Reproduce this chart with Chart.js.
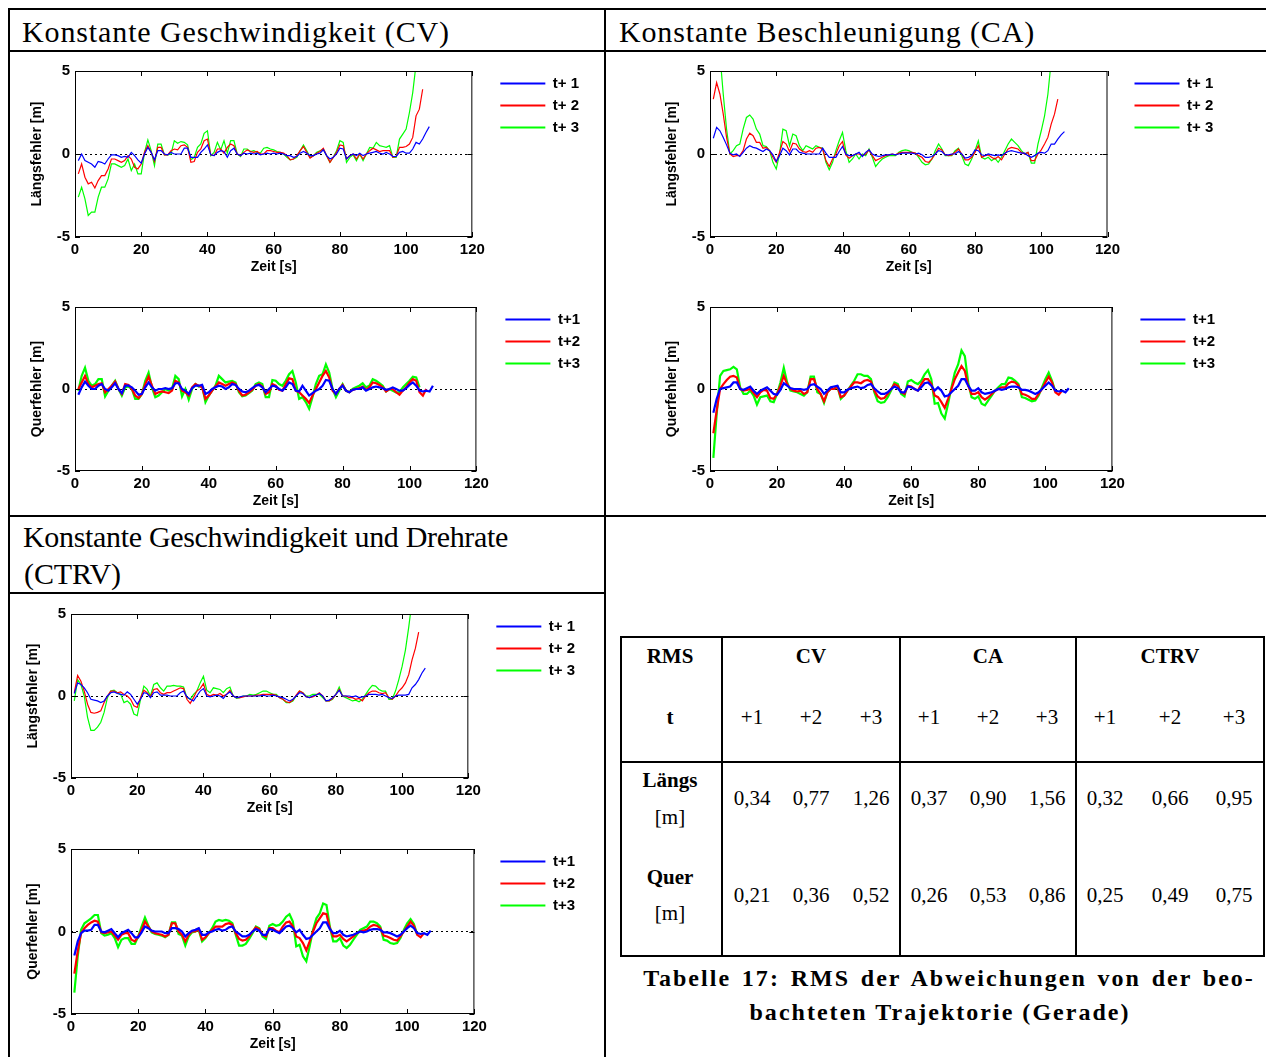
<!DOCTYPE html>
<html lang="de">
<head>
<meta charset="utf-8">
<title>Prädiktionsfehler Gerade</title>
<script src="https://cdn.jsdelivr.net/npm/chart.js@4.4.1/dist/chart.umd.min.js"></script>
<style>
  html, body { margin: 0; padding: 0; background: #fff; }
  body { width: 1266px; height: 1057px; position: relative; overflow: hidden; }
  .linie { position: absolute; background: #000; }
  .text { position: absolute; white-space: nowrap; color: #000; font-family: "Liberation Serif", "Times New Roman", serif; }
  .kopf { font-size: 30px; line-height: 30px; }
  .zelle { font-size: 21px; line-height: 21px; }
  .fett { font-weight: bold; }
  .caption { font-size: 24px; line-height: 24px; font-weight: bold; }
  canvas { position: absolute; }
</style>
</head>
<body>
<script>
// Zeitachse (s)
const zeit = [1,2,3,4,5,6,7,8,9,10,11,12,13,14,15,16,17,18,19,20,21,22,23,24,25,26,27,28,29,30,
  31,32,33,34,35,36,37,38,39,40,41,42,43,44,45,46,47,48,49,50,51,52,53,54,55,56,57,58,59,60,
  61,62,63,64,65,66,67,68,69,70,71,72,73,74,75,76,77,78,79,80,81,82,83,84,85,86,87,88,89,90,
  91,92,93,94,95,96,97,98,99,100,101,102,103,104,105,106,107]

// CV - Längsfehler
const cvLaengs1 = [-0.4,0,-0.4,-0.5,-0.6,-0.8,-0.45,-0.5,-0.6,-0.3, -0.05,-0.05,-0.1,-0.2,-0.15,-0.2,0.1,-0.1,-0.35,-0.55,
  0,0.4,0.1,-0.35,0.2,0.2,0,-0.05,0.1,0, 0,0,0.35,0.35,-0.2,-0.2,-0.2,0.1,0.3,0.55,
  -0.05,-0.1,0.1,0.2,0.15,-0.2,0.2,0.35,0,-0.1, 0.05,0,0.05,0,0.05,-0.05,0,0.05,0,0.05,
  0,0.05,0,-0.1,-0.1,-0.2,-0.15,0.05,0.15,0.05, -0.1,-0.1,0,0.05,0.25,-0.1,-0.3,-0.2,0,0.35,
  0.3,-0.3,-0.1,0,-0.1,0.05,-0.1,0,0.05,0.1, 0.15,0.05,0,0.1,0,-0.15,-0.15,0.1,0.15,0.05,
  0.05,0.3,0.7,0.6,0.9,1.3,1.65]
const cvLaengs2 = [-1.2,-0.6,-1.4,-1.8,-1.7,-2.05,-1.6,-1.3,-1.3,-0.9, -0.3,-0.3,-0.4,-0.5,-0.4,-0.1,-0.3,-0.8,-0.9,-0.6,
  0.1,0.5,0.1,-0.45,0.4,0.4,-0.05,-0.05,0.2,0.3, 0.25,0.5,0.55,0.4,-0.5,-0.45,0.1,0.3,0.8,0.9,
  -0.05,-0.1,0.3,0.3,0.05,0.4,0.6,0.5,0,-0.1, 0.1,0.25,0.15,0.1,0.15,0,0,0.2,0.2,0.15,
  0.1,0.1,0.05,-0.1,-0.35,-0.3,-0.1,0.2,0.45,0.1, -0.25,-0.1,0.05,0.15,0.35,-0.1,-0.5,-0.2,0.1,0.55,
  0.5,-0.3,-0.1,0,-0.3,0,-0.3,0,0.2,0.35, 0.25,0.15,0.2,0.2,0.2,-0.2,-0.15,0.4,0.4,0.45,
  0.6,1.0,2.3,2.7,3.9]
const cvLaengs3 = [-2.6,-2.0,-2.7,-3.7,-3.5,-3.5,-2.6,-2.0,-2.0,-1.5, -0.6,-0.6,-0.7,-0.8,-0.7,-0.3,-1.0,-0.6,-1.2,-1.2,
  0.1,0.85,0.2,-0.7,0.6,0.6,-0.05,-0.05,0,0.8, 0.65,0.75,0.7,0.55,-0.35,-0.2,0.4,0.6,1.25,1.4,
  -0.1,0.1,0.7,0.25,0.8,0.05,0.8,0.8,0,-0.15, 0.3,0.3,0.15,0.2,0.1,0.05,0.35,0.4,0.3,0.25,
  0.15,0.1,0,-0.2,-0.35,-0.3,-0.2,0.2,0.55,0.2, -0.2,-0.1,0.1,0.2,0.3,-0.1,-0.5,-0.2,0.2,0.8,
  0.7,-0.5,-0.2,-0.05,-0.4,0,-0.4,0,0.4,0.35, 0.7,0.5,0.45,0.4,0.5,-0.2,-0.2,0.9,1.2,1.5,
  2.5,3.7,5.4]

// CV - Querfehler
const cvQuer1 = [-0.35,0.1,0.45,0.2,0,0,0.2,0.3,0,-0.1, 0.1,0.35,0,-0.25,0.2,0.2,0.1,-0.1,-0.35,-0.3,
  0.1,0.4,0.1,-0.1,0,0,0.05,0,0.05,0.35, 0.35,0,-0.1,-0.3,0.05,0.2,0.2,0.25,-0.3,-0.2,
  0,0.1,0.2,0.15,0,0.1,0.3,0.25,0,-0.15, -0.2,-0.1,0.05,0.2,0.25,0.1,-0.2,0,0.2,0.15,
  0,-0.1,0.1,0.4,0.3,-0.1,-0.15,0.2,-0.1,-0.4, -0.25,-0.1,0,0.2,0.55,0.5,0,-0.3,0,0.2,
  -0.1,-0.2,-0.05,0,0,0.1,-0.1,0,0.1,0.15, 0.1,0.05,-0.05,0,0.1,0,-0.1,-0.1,0.05,0.25,
  0.4,0.2,-0.1,-0.15,-0.1,-0.15,0.2]
const cvQuer2 = [0,0.4,0.8,0.3,0.1,0.2,0.3,0.35,-0.2,0, 0.2,0.45,0,-0.3,0.3,0.25,0,-0.4,-0.55,-0.3,
  0.3,0.75,0.2,-0.3,-0.2,-0.15,-0.2,-0.25,-0.1,0.5, 0.4,-0.1,-0.2,-0.4,0.1,0.3,0.2,0.1,-0.6,-0.4,
  -0.1,0.15,0.4,0.3,0.2,0.3,0.4,0.3,-0.1,-0.4, -0.35,-0.2,-0.05,0.2,0.3,0.15,-0.3,-0.2,0.3,0.2,
  -0.05,-0.1,0.3,0.65,0.6,-0.1,-0.2,-0.4,-0.6,-0.85, -0.4,0,0.4,0.8,1.1,0.7,-0.1,-0.3,0,0.25,
  -0.1,-0.2,-0.05,0,0.05,0.15,-0.05,0.1,0.4,0.35, 0.25,0.1,-0.15,0,0,-0.2,-0.35,-0.1,0.1,0.4,
  0.6,0.5,-0.2,-0.4,0]
const cvQuer3 = [-0.1,0.8,1.3,0.5,0.2,0.3,0.6,0.6,-0.45,-0.1, 0.2,0.5,0,-0.4,0.1,0.15,0,-0.6,-0.6,-0.3,
  0.5,1.0,0.1,-0.5,-0.4,-0.2,0,-0.1,0,0.8, 0.6,-0.45,0,-0.65,0,0.3,0.15,0.2,-0.8,-0.4,
  -0.1,0.2,0.8,0.6,0.4,0.45,0.5,0.4,-0.2,-0.45, -0.4,-0.25,-0.1,0.3,0.4,0.3,-0.5,-0.5,0.55,0.5,
  0.3,0.2,0.5,0.9,1.1,0.4,-0.6,-0.5,-0.8,-1.2, -0.5,0.3,0.8,0.9,1.5,1.0,0,-0.5,-0.1,0.3,
  -0.1,-0.2,0,0.1,0.2,0.35,0.1,0.2,0.6,0.5, 0.35,0.2,-0.15,0,-0.1,-0.2,-0.2,0.1,0.3,0.5,
  0.75,0.7,0.1]

// CA - Längsfehler
const caLaengs1 = [0.95,1.6,1.4,1.0,0.55,0.05,-0.05,0,-0.15,0.1, 0.35,0.5,0.4,0.35,0.25,0.15,0.3,0.2,-0.05,-0.45,
  -0.1,0.35,0.2,-0.05,0.3,0.3,0.1,0.05,0,0, 0,0,0,0.35,0.05,-0.2,-0.2,-0.2,0.15,0.45,
  0,-0.1,-0.1,0,0.1,-0.15,0.1,0.25,0,-0.1, -0.15,-0.1,-0.05,-0.05,0,-0.05,0,0.05,0.05,0.05,
  0.05,0,0.05,-0.05,-0.2,-0.2,-0.15,0,0.2,0.15, -0.05,-0.05,0,0,0.15,0,-0.25,-0.2,-0.1,0.25,
  0.2,-0.05,-0.1,0,-0.05,-0.1,-0.05,-0.1,0.05,0.15, 0.2,0.15,0.1,0.05,0.05,-0.1,-0.2,-0.1,0.05,0.1,
  0.05,0.2,0.6,0.6,0.9,1.15,1.35]
const caLaengs2 = [3.3,4.3,3.6,2.4,1.0,0,-0.15,-0.1,-0.1,0.2, 0.9,1.25,1.1,0.7,0.7,0.35,0.4,0.2,-0.2,-0.5,
  0.1,0.75,0.6,0.15,0.65,0.6,0.3,0.15,0.1,0.2, 0.1,0.35,0.4,0.3,-0.4,-0.75,-0.3,0,0.5,0.75,
  -0.05,-0.25,-0.1,0,0,-0.1,0,0.25,-0.1,-0.4, -0.3,-0.2,-0.1,-0.05,0,-0.05,0.05,0.1,0.1,0.1,
  0.1,0.05,-0.1,-0.2,-0.45,-0.5,-0.3,0,0.35,0.25, -0.05,-0.1,-0.05,0.1,0.3,0,-0.35,-0.35,-0.2,0.1,
  0.5,-0.2,-0.1,-0.05,-0.2,-0.3,-0.15,-0.35,0,0.3, 0.4,0.35,0.3,0.1,0,0.1,-0.4,-0.4,0,0.25,
  0.6,1.0,1.8,2.4,3.3]
const caLaengs3 = [9,8,6,3.6,1.5,0,0.2,0.5,0.6,1.5, 2.2,2.35,2.1,1.5,1.2,0.5,0.45,0.2,-0.5,-0.9,
  0,1.5,1.4,0.5,1.2,1.1,0.5,0.2,0.5,0.4, 0.3,0.5,0.4,0.35,-0.5,-0.95,-0.5,0.2,0.8,1.3,
  0.2,-0.5,-0.3,0,-0.3,0,-0.1,0.3,-0.2,-0.75, -0.5,-0.3,-0.2,-0.1,-0.1,-0.1,0.1,0.2,0.25,0.2,
  0.1,0.05,-0.2,-0.5,-0.65,-0.6,-0.3,0.2,0.6,0.3, -0.1,-0.1,-0.1,0.2,0.35,-0.1,-0.6,-0.7,-0.3,0.2,
  0.8,-0.2,-0.3,-0.2,-0.4,-0.25,-0.5,-0.2,0.2,0.6, 0.9,0.7,0.5,0.2,0,0.1,-0.55,-0.55,0.6,1.4,
  2.3,3.6,5.6]

// CA - Querfehler
const caQuer1 = [-1.45,-0.6,0,0.05,0.1,0.15,0.4,0.4,0,-0.05, 0.05,0.15,-0.1,-0.3,-0.1,0,0.1,-0.1,-0.3,-0.35,
  -0.05,0.35,0.2,0.05,0,0,0,-0.05,0,0.25, 0.3,0.15,0,-0.3,-0.1,0.1,0.15,0.2,-0.2,-0.2,
  -0.05,0.05,0.1,0.15,0.05,0.1,0.25,0.3,0.05,-0.15, -0.3,-0.3,-0.2,0,0.15,0.05,-0.2,-0.2,0.15,0.1,
  0,-0.1,0.1,0.35,0.4,0.2,-0.1,0.1,-0.1,-0.45, -0.4,-0.2,0,0.2,0.6,0.6,0.2,-0.1,-0.1,0.05,
  -0.2,-0.3,-0.25,-0.2,-0.1,0,-0.05,0,0.1,0.15, 0.15,0.1,-0.05,-0.05,-0.1,-0.2,-0.3,-0.2,0,0.2,
  0.4,0.2,-0.1,-0.15,-0.1,-0.2,0.05]
const caQuer2 = [-2.7,-1.3,0,0.3,0.55,0.75,0.8,0.7,0,-0.1, -0.05,0,-0.25,-0.5,-0.2,-0.05,-0.1,-0.55,-0.6,-0.3,
  0.2,0.8,0.3,0,-0.1,-0.15,-0.1,-0.3,-0.2,0.6, 0.6,0,-0.3,-0.75,-0.2,0,0,0.15,-0.5,-0.4,
  -0.1,0.15,0.4,0.4,0.35,0.5,0.55,0.45,-0.1,-0.45, -0.6,-0.55,-0.3,0,0.3,0.2,-0.2,-0.3,0.2,0.15,
  0,-0.1,0.3,0.6,0.6,0.3,-0.4,-0.5,-0.8,-1.15, -0.6,0,0.6,1.0,1.4,1.1,0.2,-0.3,-0.3,-0.2,
  -0.5,-0.65,-0.5,-0.3,-0.1,0,0.1,0.1,0.35,0.45, 0.4,0.2,-0.3,-0.35,-0.45,-0.6,-0.6,-0.3,0,0.4,
  0.75,0.4,-0.2,-0.35,-0.1]
const caQuer3 = [-4.2,-1.5,0.8,1.1,1.15,1.2,1.35,1.2,0.1,-0.3, -0.3,-0.1,-0.4,-0.95,-0.5,-0.45,-0.4,-0.75,-0.8,-0.3,
  0.4,1.3,0.4,-0.1,-0.15,-0.2,-0.3,-0.4,-0.2,0.75, 0.75,-0.2,-0.3,-0.85,-0.2,0,0,0.15,-0.6,-0.4,
  -0.1,0.2,0.5,0.9,0.9,0.8,0.8,0.6,-0.2,-0.75, -0.85,-0.8,-0.5,-0.1,0.4,0.3,-0.3,-0.45,0.45,0.55,
  0.4,0.3,0.5,0.9,1.15,0.6,-0.9,-0.85,-1.5,-1.8, -0.9,0.1,1.0,1.5,2.35,2.0,0.4,-0.5,-0.6,-0.45,
  -0.9,-1.0,-0.7,-0.4,-0.1,0.1,0.3,0.3,0.7,0.65, 0.5,0.3,-0.5,-0.55,-0.65,-0.75,-0.7,-0.4,0.1,0.6,
  1.0,0.5,-0.15]

// CTRV - Längsfehler
const ctrvLaengs1 = [0.15,0.8,0.7,0.5,0.2,-0.2,-0.25,-0.3,-0.4,-0.3, 0,0.2,0.25,0.15,0.1,0.05,0.25,0.1,-0.2,-0.5,
  -0.2,0.2,0.15,-0.1,0.2,0.25,0.05,0.05,0.05,0, 0,0,0.2,0.3,-0.05,-0.2,-0.3,0,0.3,0.45,
  0,-0.05,0,0.05,0,-0.15,0.1,0.25,0,-0.1, -0.05,0,0,0,0,0,0,0.05,0,0,
  0.05,0,-0.05,-0.1,-0.2,-0.3,-0.2,0,0.2,0.15, -0.05,-0.1,0,0.05,0.15,0,-0.3,-0.25,-0.1,0.1,
  0.35,0,0,0,-0.05,0,-0.1,-0.05,0,0.1, 0.1,0.1,0.05,0.1,0,-0.1,-0.15,0,0.05,0.05,
  0.05,0.1,0.5,0.7,1.0,1.4,1.7]
const ctrvLaengs2 = [0.2,1.25,0.9,0.3,-0.5,-1.0,-1.05,-1.0,-0.9,-0.4, 0,0.3,0.3,0.2,0.25,0.1,0,-0.2,-0.6,-0.7,
  -0.1,0.35,0.2,-0.05,0.4,0.45,0.2,0.1,0.2,0.2, 0.3,0.4,0.5,0.45,-0.2,-0.45,-0.1,0.3,0.45,0.75,
  0.1,0,0.1,0.05,0.15,0,0.1,0.35,0,-0.1, -0.1,-0.05,0,0,0,0.05,0.05,0.1,0.1,0.1,
  0.1,0.05,-0.1,-0.2,-0.35,-0.4,-0.25,0.05,0.3,0.2, -0.05,-0.1,-0.05,0.05,0.2,0,-0.3,-0.3,-0.15,0.1,
  0.4,0,0,-0.1,-0.1,-0.2,-0.15,-0.3,0,0.2, 0.3,0.3,0.2,0.15,0.2,-0.1,-0.2,0,0.3,0.5,
  0.8,1.3,2.2,2.9,3.9]
const ctrvLaengs3 = [-0.3,1.0,0.7,0,-1.3,-2.1,-2.1,-1.9,-1.6,-1.0, -0.1,0.3,0.35,0.2,0.1,-0.4,-0.3,-0.5,-1.1,-1.2,
  -0.2,0.6,0.4,0,0.7,0.8,0.5,0.3,0.6,0.6, 0.65,0.6,0.6,0.55,-0.1,-0.2,0.1,0.3,0.8,1.2,
  0.35,0.2,0.5,0.45,0.4,0.2,0.45,0.55,0,-0.15, -0.1,0,0,0.1,0.05,0.1,0.2,0.3,0.3,0.2,
  0.1,0.1,-0.1,-0.2,-0.4,-0.4,-0.3,0,0.3,0.2, 0,0,0.1,0.1,0.1,-0.1,-0.3,-0.3,-0.2,0.1,
  0.55,0,-0.1,-0.2,-0.3,-0.25,-0.35,-0.2,0.1,0.4, 0.65,0.6,0.4,0.3,0.3,-0.2,-0.2,0.3,1.0,1.8,
  2.8,4.2,5.8]

// CTRV - Querfehler
const ctrvQuer1 = [-1.45,-0.6,-0.1,0.05,0.05,0.1,0.4,0.4,0,-0.05, 0.05,0.15,-0.1,-0.35,-0.1,0,0.1,-0.1,-0.35,-0.35,
  -0.05,0.3,0.2,0.05,0,0,0,-0.1,-0.1,0.2, 0.2,0.15,0,-0.3,-0.1,0.05,0.1,0.2,-0.2,-0.2,
  -0.05,0,0.1,0.15,0.05,0.1,0.25,0.3,0,-0.15, -0.3,-0.3,-0.2,0,0.15,0.05,-0.2,-0.2,0.15,0.1,
  0,-0.1,0.1,0.3,0.35,0.2,-0.05,0.1,-0.2,-0.45, -0.4,-0.2,0,0.2,0.55,0.55,0.15,-0.1,-0.1,0.05,
  -0.2,-0.3,-0.25,-0.2,-0.1,0,-0.05,0,0.1,0.15, 0.15,0.1,-0.05,-0.05,-0.1,-0.2,-0.3,-0.2,0,0.2,
  0.35,0.2,-0.1,-0.15,-0.1,-0.2,0.05]
const ctrvQuer2 = [-2.55,-1.2,-0.1,0.2,0.4,0.55,0.65,0.6,-0.05,-0.1, -0.05,0,-0.25,-0.5,-0.2,-0.1,-0.1,-0.5,-0.6,-0.3,
  0.1,0.6,0.3,0,-0.1,-0.15,-0.2,-0.3,-0.2,0.5, 0.5,0,-0.2,-0.6,-0.2,0,0,0.15,-0.5,-0.35,
  -0.1,0.1,0.3,0.3,0.3,0.45,0.5,0.4,-0.1,-0.45, -0.55,-0.5,-0.3,0,0.25,0.15,-0.2,-0.3,0.2,0.2,
  0.05,-0.05,0.3,0.55,0.6,0.3,-0.3,-0.4,-0.7,-1.15, -0.6,0,0.5,0.8,1.1,1.05,0.2,-0.3,-0.3,-0.2,
  -0.45,-0.6,-0.45,-0.3,-0.1,0,0.05,0.1,0.3,0.4, 0.35,0.2,-0.25,-0.3,-0.4,-0.5,-0.55,-0.3,0,0.3,
  0.6,0.35,-0.2,-0.35,-0.1]
const ctrvQuer3 = [-3.7,-1.5,0.1,0.5,0.65,0.8,1.0,1.0,-0.1,-0.25, -0.2,-0.1,-0.4,-0.95,-0.5,-0.4,-0.4,-0.75,-0.75,-0.3,
  0.3,0.85,0.35,-0.05,-0.15,-0.2,-0.25,-0.35,-0.2,0.55, 0.55,-0.15,-0.25,-0.85,-0.3,-0.05,0,0.1,-0.6,-0.4,
  -0.1,0.2,0.6,0.7,0.65,0.7,0.65,0.5,-0.2,-0.85, -0.85,-0.75,-0.45,-0.1,0.3,0.2,-0.3,-0.45,0.35,0.45,
  0.35,0.4,0.6,0.9,1.05,0.6,-0.9,-0.8,-1.5,-1.8, -0.9,0.1,0.8,1.1,1.7,1.6,0.3,-0.6,-0.6,-0.4,
  -0.85,-1.0,-0.8,-0.5,-0.2,0.1,0.2,0.3,0.6,0.6, 0.5,0.3,-0.5,-0.55,-0.7,-0.75,-0.7,-0.4,0.1,0.5,
  0.75,0.45,-0.2]

// Tabelle 17
const rmsModelle = ['CV', 'CA', 'CTRV']
const rmsSchritte = ['+1', '+2', '+3']
const rmsLaengs = ['0,34', '0,77', '1,26', '0,37', '0,90', '1,56', '0,32', '0,66', '0,95']
const rmsQuer = ['0,21', '0,36', '0,52', '0,26', '0,53', '0,86', '0,25', '0,49', '0,75']

const namenLaengs = ['t+ 1', 't+ 2', 't+ 3']
const namenQuer = ['t+1', 't+2', 't+3']
const farben = ['#0000ff', '#ff0000', '#00ff00']

// Lage der Plotflächen auf der Seite (px)
const geometrie = {
  cvLaengs:   { L: 75,  T: 67,  R: 472,  B: 237,  legX: 500 },
  cvQuer:     { L: 75,  T: 303, R: 476,  B: 471,  legX: 505 },
  caLaengs:   { L: 710, T: 67,  R: 1107, B: 237,  legX: 1134 },
  caQuer:     { L: 710, T: 303, R: 1112, B: 471,  legX: 1140 },
  ctrvLaengs: { L: 71,  T: 610, R: 468,  B: 778,  legX: 496 },
  ctrvQuer:   { L: 71,  T: 845, R: 474,  B: 1014, legX: 500 }
}

const schrift = "'Liberation Sans', Arial, sans-serif"
const achsenFont = { family: schrift, weight: 'bold', size: 15 }
const titelFont = { family: schrift, weight: 'bold', size: 14 }

// MATLAB-Rahmen mit Ticks nach innen
const rahmen = {
  id: 'rahmen',
  afterDatasetsDraw(chart) {
    const { ctx, chartArea: a, scales } = chart
    ctx.save()
    ctx.strokeStyle = '#000'
    ctx.lineWidth = 1
    ctx.strokeRect(a.left + 0.5, a.top + 0.5, a.width - 1, a.height - 1)
    ctx.beginPath()
    scales.x.ticks.forEach(t => {
      const px = Math.round(scales.x.getPixelForValue(t.value)) + 0.5
      ctx.moveTo(px, a.bottom); ctx.lineTo(px, a.bottom - 5)
      ctx.moveTo(px, a.top); ctx.lineTo(px, a.top + 5)
    })
    scales.y.ticks.forEach(t => {
      const py = Math.round(scales.y.getPixelForValue(t.value)) + 0.5
      ctx.moveTo(a.left, py); ctx.lineTo(a.left + 5, py)
      ctx.moveTo(a.right, py); ctx.lineTo(a.right - 5, py)
    })
    ctx.stroke()
    ctx.restore()
  }
}

const mess = document.createElement('canvas').getContext('2d')

function zeichneDiagramm(name, reihen, yTitel, namen, dicke) {
  const g = geometrie[name]
  const rechtsBreite = g.legX - 7 - g.R
  mess.font = 'bold 15px ' + schrift
  const textBreite = Math.max(...namen.map(n => mess.measureText(n).width))
  const legendeBreite = 7 + 45 + 7.5 + textBreite + 10

  const canvas = document.createElement('canvas')
  canvas.width = Math.round((g.R - g.L) + 60 + rechtsBreite + legendeBreite)
  canvas.height = (g.B - g.T) + 10 + 45
  canvas.style.left = (g.L - 60) + 'px'
  canvas.style.top = (g.T - 10) + 'px'
  document.body.appendChild(canvas)

  new Chart(canvas, {
    type: 'line',
    data: {
      datasets: reihen.map((werte, k) => ({
        label: namen[k],
        data: werte.map((v, i) => ({ x: zeit[i], y: v })),
        borderColor: farben[k],
        backgroundColor: farben[k],
        borderWidth: dicke,
        pointRadius: 0,
        tension: 0,
        fill: false
      }))
    },
    options: {
      responsive: false,
      animation: false,
      layout: { padding: { top: 10, left: 0, right: 0, bottom: 0 } },
      scales: {
        x: {
          type: 'linear', min: 0, max: 120,
          ticks: { stepSize: 20, padding: 4, color: '#000', font: achsenFont, maxRotation: 0 },
          grid: { display: false, drawTicks: false },
          border: { display: false },
          title: { display: true, text: 'Zeit [s]', color: '#000', font: titelFont, padding: { top: 0, bottom: 6 } },
          afterFit: s => { s.height = 45 }
        },
        y: {
          type: 'linear', min: -5, max: 5,
          ticks: { stepSize: 5, padding: 5, color: '#000', font: achsenFont },
          grid: { drawTicks: false, lineWidth: 1, color: c => c.tick && c.tick.value === 0 ? '#000' : 'rgba(0,0,0,0)' },
          border: { display: false, dash: [2, 3] },
          title: { display: true, text: yTitel, color: '#000', font: titelFont, padding: { top: 14, bottom: 0 } },
          afterFit: s => { s.width = 60 }
        },
        rechts: {
          type: 'linear', position: 'right', display: true,
          ticks: { display: false },
          grid: { display: false, drawTicks: false },
          border: { display: false },
          afterFit: s => { s.width = rechtsBreite }
        }
      },
      plugins: {
        legend: {
          position: 'right', align: 'start',
          title: { display: true, text: ' ', font: { size: 1, lineHeight: 1 }, padding: { top: 1, bottom: 0 } },
          labels: {
            usePointStyle: true, pointStyle: 'line', pointStyleWidth: 45,
            padding: 7, color: '#000', font: achsenFont,
            generateLabels: chart => Chart.defaults.plugins.legend.labels.generateLabels(chart)
              .map(l => Object.assign(l, { lineWidth: 2 }))
          }
        },
        tooltip: { enabled: false }
      }
    },
    plugins: [rahmen]
  })
}

zeichneDiagramm('cvLaengs', [cvLaengs1, cvLaengs2, cvLaengs3], 'Längsfehler [m]', namenLaengs, 1.2)
zeichneDiagramm('cvQuer', [cvQuer1, cvQuer2, cvQuer3], 'Querfehler [m]', namenQuer, 2.2)
zeichneDiagramm('caLaengs', [caLaengs1, caLaengs2, caLaengs3], 'Längsfehler [m]', namenLaengs, 1.2)
zeichneDiagramm('caQuer', [caQuer1, caQuer2, caQuer3], 'Querfehler [m]', namenQuer, 2.2)
zeichneDiagramm('ctrvLaengs', [ctrvLaengs1, ctrvLaengs2, ctrvLaengs3], 'Längsfehler [m]', namenLaengs, 1.2)
zeichneDiagramm('ctrvQuer', [ctrvQuer1, ctrvQuer2, ctrvQuer3], 'Querfehler [m]', namenQuer, 2.2)

// Linien des Rahmens
function linie(x, y, w, h) {
  const el = document.createElement('div')
  el.className = 'linie'
  el.style.left = x + 'px'; el.style.top = y + 'px'
  el.style.width = w + 'px'; el.style.height = h + 'px'
  document.body.appendChild(el)
}
linie(8, 8, 1258, 2)
linie(8, 8, 2, 1049)
linie(8, 50, 1258, 2)
linie(604, 8, 2, 1049)
linie(8, 515, 1258, 2)
linie(8, 592, 598, 2)
// Tabelle
linie(620, 636, 645, 2)
linie(620, 955, 645, 2)
linie(620, 636, 2, 321)
linie(1263, 636, 2, 321)
linie(721, 636, 2, 321)
linie(899, 636, 2, 321)
linie(1075, 636, 2, 321)
linie(620, 761, 645, 2)

function text(inhalt, x, y, klasse, mitte, zielBreite) {
  const el = document.createElement('div')
  el.className = 'text ' + klasse
  el.textContent = inhalt
  el.style.left = x + 'px'
  el.style.top = y + 'px'
  document.body.appendChild(el)
  if (zielBreite) {
    const w = el.getBoundingClientRect().width
    el.style.letterSpacing = ((zielBreite - w) / inhalt.length) + 'px'
  }
  if (mitte) el.style.transform = 'translate(-50%, -50%)'
  return el
}

// Überschriften (Oberkante = Grundlinie - 25)
text('Konstante Geschwindigkeit (CV)', 22, 17, 'kopf', false, 428)
text('Konstante Beschleunigung (CA)', 619, 17, 'kopf', false, 416)
text('Konstante Geschwindigkeit und Drehrate', 23, 522, 'kopf', false, 485)
text('(CTRV)', 24, 559, 'kopf', false, 97)

// Tabelleninhalt
const spaltenX = [752, 811, 871, 929, 988, 1047, 1105, 1170, 1234]
const gruppenX = [811, 988, 1170]
text('RMS', 670, 656, 'zelle fett', true)
rmsModelle.forEach((m, i) => text(m, gruppenX[i], 656, 'zelle fett', true))
text('t', 670, 717, 'zelle fett', true)
spaltenX.forEach((x, i) => text(rmsSchritte[i % 3], x, 717, 'zelle', true))
text('Längs', 670, 780, 'zelle fett', true)
text('[m]', 670, 817, 'zelle', true)
rmsLaengs.forEach((v, i) => text(v, spaltenX[i], 798, 'zelle', true))
text('Quer', 670, 877, 'zelle fett', true)
text('[m]', 670, 913, 'zelle', true)
rmsQuer.forEach((v, i) => text(v, spaltenX[i], 895, 'zelle', true))

// Beschriftung: zweite Zeile natürlich gesperrt, erste Zeile im Blocksatz
const zeile2 = text('bachteten Trajektorie (Gerade)', 940, 1012, 'caption', true, 381)
const zeile1 = text('Tabelle 17: RMS der Abweichungen von der beo-', 949, 978, 'caption', true)
zeile1.style.letterSpacing = zeile2.style.letterSpacing
const breite1 = zeile1.getBoundingClientRect().width
zeile1.style.wordSpacing = ((609 - breite1) / 6) + 'px'
</script>
</body>
</html>
